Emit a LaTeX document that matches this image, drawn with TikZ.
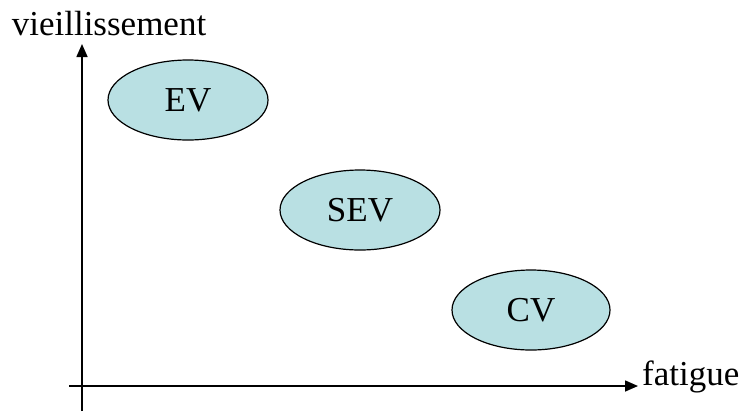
\documentclass[tikz,border=0pt]{standalone}
\usepackage{fontspec}
\setmainfont{Liberation Serif}
\usetikzlibrary{shapes.geometric,arrows.meta}
\definecolor{cellfill}{HTML}{B9E0E3}
\begin{document}
\begin{tikzpicture}[x=1pt,y=-1pt,
  zone/.style={ellipse,draw=black,line width=1.2pt,fill=cellfill,minimum width=160pt,minimum height=80pt,inner sep=0pt,font=\fontsize{35}{40}\selectfont},
  axis/.style={line width=1.6pt,-{Triangle[length=13pt,width=11pt]}},
  lbl/.style={font=\fontsize{35}{40}\selectfont,inner sep=0pt}]
\useasboundingbox (0,0) rectangle (746,413);
\coordinate (ybot) at (82,411);
\coordinate (ytop) at (82,44);
\coordinate (xleft) at (69,386);
\coordinate (xright) at (638,386);
\draw[axis] (ybot) -- (ytop);
\draw[axis] (xleft) -- (xright);
\node[lbl,anchor=base] (yl) at (109,35) {vieillissement};
\node[lbl,anchor=base west] (xl) at (642,385) {fatigue};
\node[zone] (ev) at (188,100) {EV};
\node[zone] (sev) at (360,210) {SEV};
\node[zone,minimum width=158pt] (cv) at (531,310) {CV};
\end{tikzpicture}
\end{document}
